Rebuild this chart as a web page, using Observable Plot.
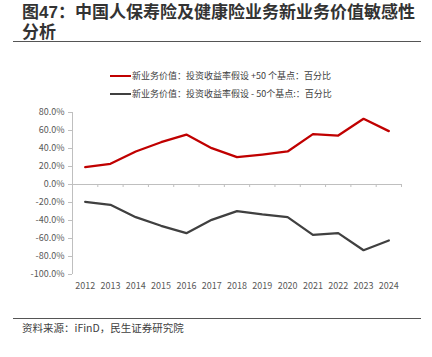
<!DOCTYPE html>
<html><head><meta charset="utf-8">
<script src="https://cdn.jsdelivr.net/npm/d3@7"></script>
<script src="https://cdn.jsdelivr.net/npm/@observablehq/plot@0.6"></script>
<style>
body{margin:0;background:#fff;font-family:"Noto Sans CJK SC","Noto Sans",sans-serif;}
#wrap{position:relative;width:432px;height:357px;overflow:hidden;background:#fff;}
#chart{position:absolute;left:0;top:0;}
.title{position:absolute;left:22px;font-family:"Liberation Sans","Noto Sans CJK SC",sans-serif;font-size:17px;font-weight:bold;line-height:19px;height:19px;color:#333;white-space:nowrap;}
.rule{position:absolute;left:13px;width:408px;height:1px;background:#555;}
.legend{position:absolute;left:110px;font-size:9px;color:#404040;white-space:nowrap;display:flex;align-items:center;}
.legend span.sw{display:inline-block;width:21px;height:2px;margin-right:1px;}
.caption{position:absolute;left:22px;top:320px;font-size:10.5px;color:#404040;white-space:nowrap;}
</style></head><body>
<div id="wrap">
<div id="chart"></div>
<div class="title" style="top:3px">图47：中国人保寿险及健康险业务新业务价值敏感性</div>
<div class="title" style="top:23px">分析</div>
<div class="rule" style="top:41px"></div>
<div class="legend" style="top:69px"><span class="sw" style="background:#C00000"></span>新业务价值：投资收益率假设 +50 个基点：百分比</div>
<div class="legend" style="top:87px"><span class="sw" style="background:#404040"></span>新业务价值：投资收益率假设 - 50个基点:：百分比</div>
<div class="rule" style="top:318px"></div>
<div class="caption">资料来源：iFinD，民生证券研究院</div>
</div>
<script>
const years = [2012, 2013, 2014, 2015, 2016, 2017, 2018, 2019, 2020, 2021, 2022, 2023, 2024];
const plus50 = [19.2, 23.0, 36.7, 47.0, 55.5, 40.4, 30.4, 33.3, 36.7, 55.9, 54.4, 73.0, 59.3];
const minus50 = [-19.3, -22.6, -36.3, -45.9, -54.1, -39.3, -29.6, -33.3, -36.3, -55.9, -54.1, -73.0, -62.2];
const yTicks = [80, 60, 40, 20, 0, -20, -40, -60, -80, -100];
const seriesNames = ["新业务价值：投资收益率假设 +50 个基点：百分比", "新业务价值：投资收益率假设 - 50个基点:：百分比"];

const xDomain = [years[0] - 0.5, years[years.length - 1] + 0.5];
const yDomain = [yTicks[yTicks.length - 1], yTicks[0]];
const bounds = years.map(y => y - 0.5).concat([years[years.length - 1] + 0.5]);
const dPlus = years.map((y, i) => ({year: y, v: plus50[i]}));
const dMinus = years.map((y, i) => ({year: y, v: minus50[i]}));
const axisColor = "#bfbfbf";

const chart = Plot.plot({
  width: 432,
  height: 357,
  marginTop: 112,
  marginBottom: 83,
  marginLeft: 72,
  marginRight: 31,
  style: {fontFamily: '"Noto Sans CJK SC","Noto Sans",sans-serif', fontSize: "9px", color: "#595959", background: "transparent"},
  x: {type: "linear", domain: xDomain, axis: null, label: null},
  y: {type: "linear", domain: yDomain, axis: null, label: null},
  marks: [
    Plot.ruleX([xDomain[0]], {y1: yDomain[0], y2: yDomain[1], stroke: axisColor, strokeWidth: 1}),
    Plot.ruleY([0], {stroke: axisColor, strokeWidth: 1}),
    Plot.ruleX(bounds, {y1: 0, y2: 0, insetBottom: -3, stroke: axisColor}),
    Plot.axisY({ticks: yTicks, tickFormat: d => d.toFixed(1) + "%", tickSize: 4, tickPadding: 4, stroke: axisColor, fill: "#595959", label: null}),
    Plot.axisX({ticks: years, tickFormat: d => String(d), tickSize: 0, tickPadding: 8, fill: "#595959", label: null}),
    Plot.line(dMinus, {x: "year", y: "v", stroke: "#404040", strokeWidth: 2.25}),
    Plot.line(dPlus, {x: "year", y: "v", stroke: "#C00000", strokeWidth: 2.25})
  ]
});
document.getElementById("chart").appendChild(chart);
</script>
</body></html>
